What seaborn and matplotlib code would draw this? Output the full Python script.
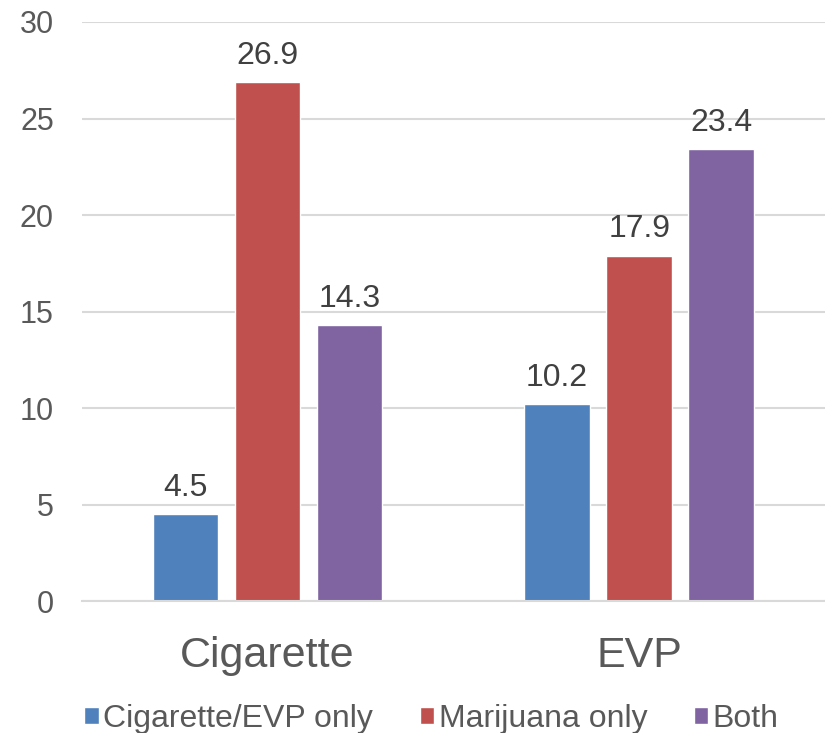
import matplotlib
matplotlib.use("Agg")
import matplotlib.pyplot as plt
import seaborn as sns
import pandas as pd

categories = ["Cigarette", "EVP"]
series = ["Cigarette/EVP only", "Marijuana only", "Both"]
cig_evp_only = [4.5, 10.2]
marijuana_only = [26.9, 17.9]
both = [14.3, 23.4]
yticks = [0, 5, 10, 15, 20, 25, 30]

colors = ["#4F81BD", "#C0504D", "#8064A2"]

rows = []
for name, vals in zip(series, [cig_evp_only, marijuana_only, both]):
    for cat, v in zip(categories, vals):
        rows.append({"category": cat, "group": name, "value": v})
df = pd.DataFrame(rows)

sns.set_theme(style="white")
plt.rcParams["font.family"] = ["Liberation Sans", "DejaVu Sans"]

fig = plt.figure(figsize=(8.25, 7.33), dpi=100)
ax = fig.add_axes([0.099, 0.18, 0.901, 0.79])

sns.barplot(data=df, x="category", y="value", hue="group", order=categories,
            hue_order=series, palette=colors, width=0.663, gap=0.2,
            saturation=1, ax=ax, legend=True)

for cont in ax.containers:
    ax.bar_label(cont, fmt="%.1f", padding=8, fontsize=23, color="#404040")

ax.set_ylim(0, 30)
ax.set_xlim(-0.5, 1.5)
ax.set_yticks(yticks)
ax.set_yticklabels([str(t) for t in yticks])
ax.yaxis.grid(True, color="#D9D9D9", linewidth=1.5)
ax.set_axisbelow(True)
for s in ["left", "right", "top"]:
    ax.spines[s].set_visible(False)
ax.spines["bottom"].set_color("#D9D9D9")
ax.spines["bottom"].set_linewidth(1.5)
ax.tick_params(axis="y", length=0, labelsize=22, labelcolor="#595959", pad=20)
ax.tick_params(axis="x", length=0, labelsize=31, labelcolor="#595959", pad=25)
ax.set_xlabel("")
ax.set_ylabel("")

handles, labels = ax.get_legend_handles_labels()
ax.get_legend().remove()
fig.legend(handles, labels, loc="center", bbox_to_anchor=(0.523, 0.019),
           ncol=3, frameon=False, fontsize=23, handlelength=0.45, handleheight=0.45,
           handletextpad=0.15, columnspacing=1.45, labelcolor="#595959",
           borderaxespad=0, borderpad=0)

fig.savefig("out.png", dpi=100)
